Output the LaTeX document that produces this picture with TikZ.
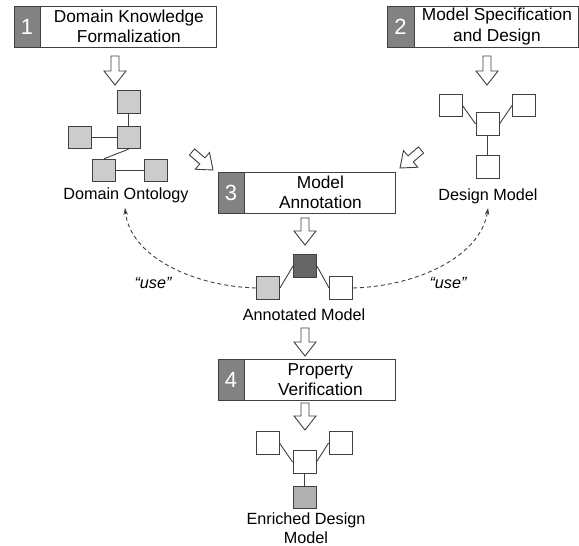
\documentclass[tikz,border=0pt]{standalone}
\usepackage{fontspec}
\setmainfont{Liberation Sans}
\usetikzlibrary{calc,arrows.meta}
\definecolor{linec}{RGB}{64,64,64}
\definecolor{numc}{RGB}{130,130,130}
\definecolor{ontc}{RGB}{204,204,204}
\definecolor{darkc}{RGB}{102,102,102}
\definecolor{enrc}{RGB}{176,176,176}
\tikzset{
  numcell/.style={draw=linec, fill=numc, line width=0.9pt, minimum width=26pt, minimum height=41pt,
    inner sep=0pt, text=white, font=\fontsize{22}{24}\selectfont},
  stepbox/.style={draw=linec, fill=white, line width=0.9pt, minimum height=41pt, inner sep=0pt,
    align=center, font=\fontsize{17.3}{20.5}\selectfont},
  sq/.style={draw=linec, line width=0.9pt, minimum width=23pt, minimum height=22.5pt, inner sep=0pt},
  lbl/.style={align=center, inner sep=0pt, font=\fontsize{16.2}{19}\selectfont},
  uselbl/.style={inner sep=0pt, font=\fontsize{16.2}{19}\selectfont\itshape},
  link/.style={draw=linec, line width=0.9pt},
  usearrow/.style={draw=linec, line width=0.9pt, dash pattern=on 4pt off 3pt,
    -{Stealth[length=7pt,width=4.5pt]}},
  hollow/.style={draw=linec, fill=white, line width=0.9pt, line join=miter,
    to path={
      ($(\tikztostart)!4pt!90:(\tikztotarget)$) --
      ($(\tikztotarget)!14pt!(\tikztostart)!4pt!-90:(\tikztostart)$) --
      ($(\tikztotarget)!14pt!(\tikztostart)!11pt!-90:(\tikztostart)$) --
      (\tikztotarget) --
      ($(\tikztotarget)!14pt!(\tikztostart)!11pt!90:(\tikztostart)$) --
      ($(\tikztotarget)!14pt!(\tikztostart)!4pt!90:(\tikztostart)$) --
      ($(\tikztostart)!4pt!-90:(\tikztotarget)$) -- cycle}}
}
\begin{document}
\begin{tikzpicture}[x=1pt,y=-1pt]
\useasboundingbox[fill=white] (0,0) rectangle (579,546);

% step boxes
\node[numcell] (n1) at (27,26.5) {1};
\node[stepbox, minimum width=176pt, anchor=west] (b1) at (n1.east) {Domain Knowledge\\Formalization};
\node[numcell, minimum width=27pt] (n2) at (400.5,26.5) {2};
\node[stepbox, minimum width=164pt, anchor=west] (b2) at (n2.east) {Model Specification\\and Design};
\node[numcell] (n3) at (231,192.5) {3};
\node[stepbox, minimum width=151pt, anchor=west] (b3) at (n3.east) {Model\\Annotation};
\node[numcell] (n4) at (231,379.5) {4};
\node[stepbox, minimum width=151pt, anchor=west] (b4) at (n4.east) {Property\\Verification};

% domain ontology
\node[sq, fill=ontc] (o1) at (128.5,102) {};
\node[sq, fill=ontc] (o2) at (128.5,137.5) {};
\node[sq, fill=ontc] (o3) at (79.5,137.5) {};
\node[sq, fill=ontc] (o4) at (104,170.5) {};
\node[sq, fill=ontc] (o5) at (155.5,170.5) {};
\draw[link] (o1) -- (o2);
\draw[link] (o3) -- (o2);
\draw[link] (o2.south) -- (o4.north);
\draw[link] (o4) -- (o5);
\node[lbl] (lo) at (126,195) {Domain Ontology};

% design model
\node[sq, fill=white] (d1) at (450.5,105.5) {};
\node[sq, fill=white] (d2) at (524,105.5) {};
\node[sq, fill=white] (d3) at (487.5,124) {};
\node[sq, fill=white] (d4) at (487.5,167) {};
\draw[link] (d1.east) -- (d3.west);
\draw[link] (d2.west) -- (d3.east);
\draw[link] (d3) -- (d4);
\node[lbl] (ld) at (488,196) {Design Model};

% annotated model
\node[sq, fill=ontc] (m1) at (268,288) {};
\node[sq, fill=darkc] (m2) at (305,266) {};
\node[sq, fill=white] (m3) at (341,288) {};
\draw[link] (m1.east) -- (m2.west);
\draw[link] (m3.west) -- (m2.east);
\node[lbl] (lm) at (304,315) {Annotated Model};

% enriched design model
\node[sq, fill=white] (e1) at (267.5,443) {};
\node[sq, fill=white] (e2) at (340.5,443) {};
\node[sq, fill=white] (e3) at (304.5,462) {};
\node[sq, fill=enrc] (e4) at (304.5,497.5) {};
\draw[link] (e1.east) -- (e3.west);
\draw[link] (e2.west) -- (e3.east);
\draw[link] (e3) -- (e4);
\node[lbl] (le) at (306,528.5) {Enriched Design\\Model};

% use arrows
\coordinate (ut1) at (125,208);
\coordinate (ut2) at (488,208);
\draw[usearrow] (m1.west) .. controls (190,286) and (130,255) .. (ut1);
\draw[usearrow] (m3.east) .. controls (420,286) and (481,255) .. (ut2);
\node[uselbl] (u1) at (153,283) {“use”};
\node[uselbl] (u2) at (448,283) {“use”};

% hollow arrows
\coordinate (a1s) at (115,56);   \coordinate (a1t) at (115,85);
\coordinate (a2s) at (487,56);   \coordinate (a2t) at (487,85);
\coordinate (a3s) at (305,218);  \coordinate (a3t) at (305,245);
\coordinate (a4s) at (305,328);  \coordinate (a4t) at (305,356);
\coordinate (a5s) at (305,403);  \coordinate (a5t) at (305,430);
\coordinate (a6s) at (192,152);  \coordinate (a6t) at (213,170);
\coordinate (a7s) at (421,150);  \coordinate (a7t) at (400,168);
\draw[hollow] (a1s) to (a1t);
\draw[hollow] (a2s) to (a2t);
\draw[hollow] (a3s) to (a3t);
\draw[hollow] (a4s) to (a4t);
\draw[hollow] (a5s) to (a5t);
\draw[hollow] (a6s) to (a6t);
\draw[hollow] (a7s) to (a7t);
\end{tikzpicture}
\end{document}
